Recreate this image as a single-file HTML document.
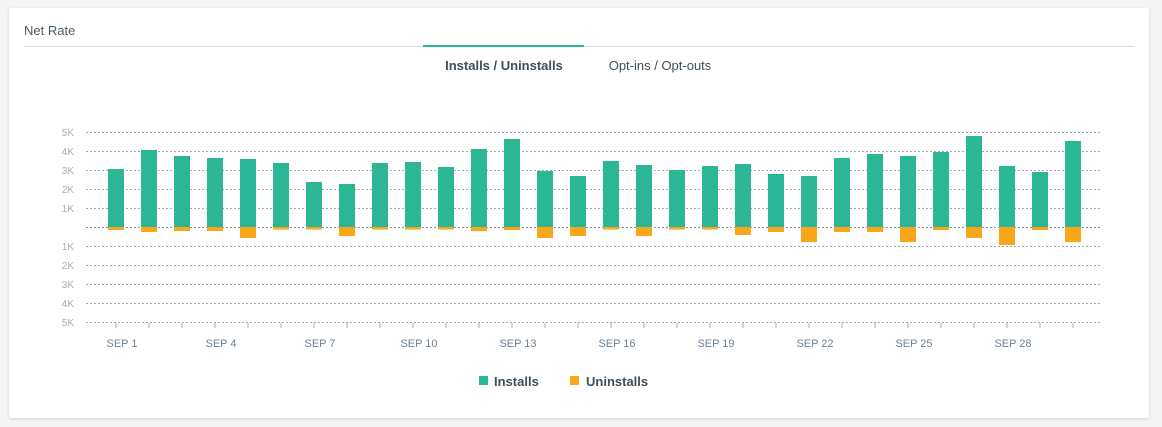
<!DOCTYPE html>
<html><head><style>
body{margin:0;background:#f5f5f5;font-family:"Liberation Sans",sans-serif;}
.card{position:absolute;left:9px;top:8px;width:1140px;height:410px;background:#fff;box-shadow:0 1px 3px rgba(0,0,0,.15);border-radius:2px;}
</style></head><body>
<div class="card"></div>
<svg width="1162" height="427" style="position:absolute;left:0;top:0" font-family="Liberation Sans, sans-serif">
<text x="24" y="35" font-size="13" fill="#4a5a66">Net Rate</text>
<line x1="24" y1="46.5" x2="1134" y2="46.5" stroke="#ddd"/>
<rect x="423" y="45" width="161" height="2" fill="#2bb795"/>
<text x="504" y="70" font-size="13" font-weight="bold" fill="#3f4f5c" text-anchor="middle">Installs / Uninstalls</text>
<text x="660" y="70" font-size="13" fill="#3f4f5c" text-anchor="middle">Opt-ins / Opt-outs</text>
<g id="grid"></g>
<g id="bars"></g>
<rect x="479" y="376" width="9" height="9" fill="#2bb795"/>
<text x="494" y="386" font-size="13" font-weight="bold" fill="#3f4f5c">Installs</text>
<rect x="570" y="376" width="9" height="9" fill="#f9a61a"/>
<text x="586" y="386" font-size="13" font-weight="bold" fill="#3f4f5c">Uninstalls</text>
</svg>
<script>
var ns="http://www.w3.org/2000/svg",g=document.getElementById("grid"),b=document.getElementById("bars");
function el(p,t,a,txt){var e=document.createElementNS(ns,t);for(var k in a)e.setAttribute(k,a[k]);if(txt)e.textContent=txt;p.appendChild(e);return e;}
var labs=["5K","4K","3K","2K","1K","","1K","2K","3K","4K","5K"];
for(var i=0;i<11;i++){var y=132+i*19;el(g,"line",{x1:86,x2:1100,y1:y+.5,y2:y+.5,stroke:i==5?"#7a8fa0":"#9aabb8","stroke-dasharray":"2,2"});
if(labs[i])el(g,"text",{x:74,y:y+4,"font-size":10,fill:"#aab","text-anchor":"end"},labs[i]);}
var tops=[169,150,156,158,159,163,182,184,163,162,167,149,139,171,176,161,165,170,166,164,174,176,158,154,156,152,136,166,172,141];
var bots=[230,232,231,231,238,229,228,236,229,228,229,231,230,238,236,228,236,228,228,235,232,242,232,232,242,230,238,245,230,242];
for(var i=0;i<30;i++){var cx=116+i*33;var bt=Math.max(bots[i],229.5);
el(b,"rect",{x:cx-8,y:tops[i],width:16,height:227-tops[i],fill:"#2bb795"});
el(b,"rect",{x:cx-8,y:227,width:16,height:bt-227,fill:"#f9a61a"});
el(b,"line",{x1:cx,x2:cx,y1:323,y2:328,stroke:"#aab"});
if(i%3==0)el(b,"text",{x:cx+6,y:347,"font-size":11,fill:"#6b8296","text-anchor":"middle"},"SEP "+(i+1));}
</script>
</body></html>
